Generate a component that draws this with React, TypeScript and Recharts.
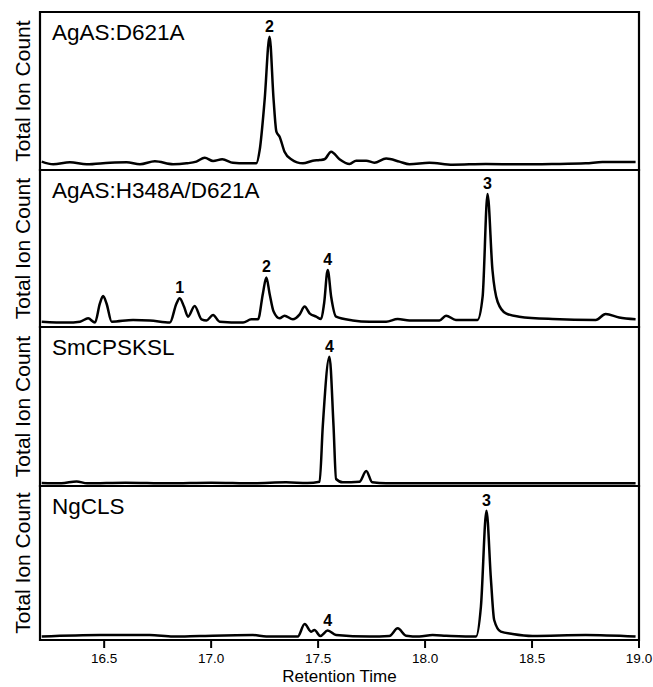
import { LineChart, Line, XAxis, YAxis, ReferenceArea, ReferenceDot } from "recharts";

// retention time (min) and relative signal (% of panel height) per trace
const d621aTime = [16.208, 16.262, 16.34, 16.418, 16.527, 16.605, 16.667, 16.737, 16.822, 16.885, 16.931, 16.97, 17.009, 17.052, 17.102, 17.16, 17.211, 17.227, 17.25, 17.273, 17.292, 17.305, 17.32, 17.343, 17.374, 17.429, 17.475, 17.507, 17.53, 17.561, 17.6, 17.647, 17.678, 17.725, 17.763, 17.818, 17.88, 17.927, 18.02, 18.129, 18.284, 18.44, 18.595, 18.751, 18.829, 18.984];
const d621aSignal = [5.3, 3.6, 4.9, 3.6, 4.6, 4.9, 3.6, 5.5, 3.6, 4.2, 5.3, 7.8, 5.7, 6.8, 4.6, 4.2, 4.2, 12.7, 44.3, 84.4, 44.3, 24.3, 21.1, 11.6, 6.8, 4.2, 5.9, 6.3, 6.8, 11.6, 6.8, 3.8, 5.9, 5.9, 4.6, 7.2, 5.3, 3.6, 4.6, 3.4, 3.8, 3.6, 3.8, 4.2, 5.1, 5.1];

const h348aTime = [16.208, 16.325, 16.387, 16.425, 16.457, 16.48, 16.495, 16.511, 16.535, 16.635, 16.713, 16.807, 16.838, 16.853, 16.873, 16.892, 16.923, 16.955, 16.978, 17.009, 17.04, 17.149, 17.188, 17.219, 17.242, 17.258, 17.273, 17.292, 17.32, 17.343, 17.382, 17.413, 17.437, 17.46, 17.491, 17.514, 17.528, 17.545, 17.561, 17.584, 17.662, 17.74, 17.818, 17.872, 17.927, 18.02, 18.067, 18.098, 18.144, 18.245, 18.269, 18.292, 18.315, 18.339, 18.378, 18.44, 18.595, 18.798, 18.844, 18.907, 18.984];
const h348aSignal = [3.4, 2.8, 3.4, 5.5, 2.8, 15, 19.7, 15, 3.4, 4.5, 4.2, 2.8, 15, 18.3, 13, 6.6, 13.4, 4.9, 4.2, 7.6, 3.4, 2.8, 4.9, 4.9, 21.4, 31.6, 21.4, 9.8, 5.5, 7.2, 4.9, 7.9, 13, 8.7, 6.6, 5.1, 15, 36.3, 19.3, 6.6, 4.2, 3.4, 3.4, 5.1, 4.2, 4.2, 4.2, 7.2, 4.5, 4.5, 19.3, 84.7, 36.3, 16.1, 8.7, 6.6, 5.1, 4.5, 8.3, 6, 4.9];

const smcpsTime = [16.208, 16.3, 16.371, 16.42, 16.6, 16.8, 17.0, 17.2, 17.35, 17.45, 17.507, 17.522, 17.553, 17.572, 17.584, 17.615, 17.693, 17.725, 17.753, 17.818, 18.0, 18.3, 18.6, 18.984];
const smcpsSignal = [1.9, 1.7, 2.9, 1.7, 2.1, 1.7, 2.1, 1.7, 2.3, 1.9, 2.7, 38, 81.3, 38, 4.4, 2.3, 2.7, 9.4, 2.3, 1.7, 1.7, 1.7, 1.7, 1.7];

const ngclsTime = [16.208, 16.48, 16.713, 16.822, 16.947, 17.195, 17.258, 17.405, 17.437, 17.468, 17.483, 17.51, 17.545, 17.584, 17.74, 17.833, 17.872, 17.911, 17.973, 18.035, 18.098, 18.238, 18.261, 18.287, 18.308, 18.323, 18.354, 18.409, 18.502, 18.751, 18.984];
const ngclsSignal = [2.2, 3.2, 3.2, 2.2, 2.6, 3.2, 2.2, 2.2, 10.4, 5.4, 6.5, 2.6, 6.1, 3.2, 2.2, 2.6, 7.6, 2.8, 2.2, 3.2, 2.8, 2.2, 21.6, 84, 39, 13, 5.4, 3.9, 2.6, 3.2, 2.2];

const panelTitles = ["AgAS:D621A", "AgAS:H348A/D621A", "SmCPSKSL", "NgCLS"];
const timeTicks = [16.5, 17.0, 17.5, 18.0, 18.5, 19.0];

// compound numbers above peaks: [time, signal, label]
const d621aPeaks: [number, number, string][] = [[17.273, 84.4, "2"]];
const h348aPeaks: [number, number, string][] = [[16.853, 18.3, "1"], [17.258, 31.6, "2"], [17.545, 36.3, "4"], [18.292, 84.7, "3"]];
const smcpsPeaks: [number, number, string][] = [[17.553, 81.3, "4"]];
const ngclsPeaks: [number, number, string][] = [[18.287, 84, "3"], [17.545, 6.1, "4"]];

const toRows = (time: number[], signal: number[]) => time.map((t, i) => ({ t, v: signal[i] }));

const panels = [
  { title: panelTitles[0], rows: toRows(d621aTime, d621aSignal), peaks: d621aPeaks, top: 12, height: 158 },
  { title: panelTitles[1], rows: toRows(h348aTime, h348aSignal), peaks: h348aPeaks, top: 170, height: 157 },
  { title: panelTitles[2], rows: toRows(smcpsTime, smcpsSignal), peaks: smcpsPeaks, top: 327, height: 159 },
  { title: panelTitles[3], rows: toRows(ngclsTime, ngclsSignal), peaks: ngclsPeaks, top: 486, height: 154 },
];

const AXIS_H = 47;

function Panel({ panel, last }: { panel: (typeof panels)[number]; last: boolean }) {
  const h = panel.height + 4 + (last ? AXIS_H - 2 : 0);
  return (
    <div style={{ position: "absolute", left: 0, top: panel.top - 2 }}>
      <LineChart width={653} height={h} data={panel.rows} margin={{ top: 2, right: 14, bottom: last ? 0 : 2, left: 0 }}>
        <XAxis
          type="number"
          dataKey="t"
          domain={[16.2, 19]}
          ticks={timeTicks}
          hide={!last}
          height={AXIS_H}
          tickFormatter={(v: number) => v.toFixed(1)}
          stroke="#000"
          strokeWidth={2}
          tickSize={8}
          tickMargin={5}
          tick={{ fill: "#000", fontSize: 13.5 }}
          label={{ value: "Retention Time", position: "insideBottom", offset: 5, fill: "#000", fontSize: 17 }}
        />
        <YAxis
          type="number"
          domain={[0, 100]}
          width={40}
          tick={false}
          axisLine={false}
          tickLine={false}
          label={{ value: "Total Ion Count", angle: -90, position: "center", dx: 3, fill: "#000", fontSize: 21 }}
        />
        <ReferenceArea
          x1={16.2}
          x2={19}
          y1={0}
          y2={100}
          fill="none"
          stroke="#000"
          strokeWidth={2.2}
          ifOverflow="visible"
          label={{ value: panel.title, position: "insideTopLeft", offset: 12, fill: "#000", fontSize: 22.5 }}
        />
        <Line type="monotone" dataKey="v" stroke="#000" strokeWidth={2.5} dot={false} isAnimationActive={false} />
        {panel.peaks.map(([t, v, text]) => (
          <ReferenceDot
            key={text + t}
            x={t}
            y={v}
            r={0.1}
            fill="none"
            stroke="none"
            label={{ value: text, position: "top", offset: 5, fill: "#000", fontSize: 16, fontWeight: "bold" }}
          />
        ))}
      </LineChart>
    </div>
  );
}

export default function App() {
  return (
    <div
      style={{
        position: "absolute",
        left: 0,
        top: 0,
        width: 653,
        height: 687,
        background: "#fff",
        fontFamily: "'Liberation Sans', Arial, Helvetica, sans-serif",
      }}
    >
      {panels.map((p, i) => (
        <Panel key={p.title} panel={p} last={i === panels.length - 1} />
      ))}
    </div>
  );
}
